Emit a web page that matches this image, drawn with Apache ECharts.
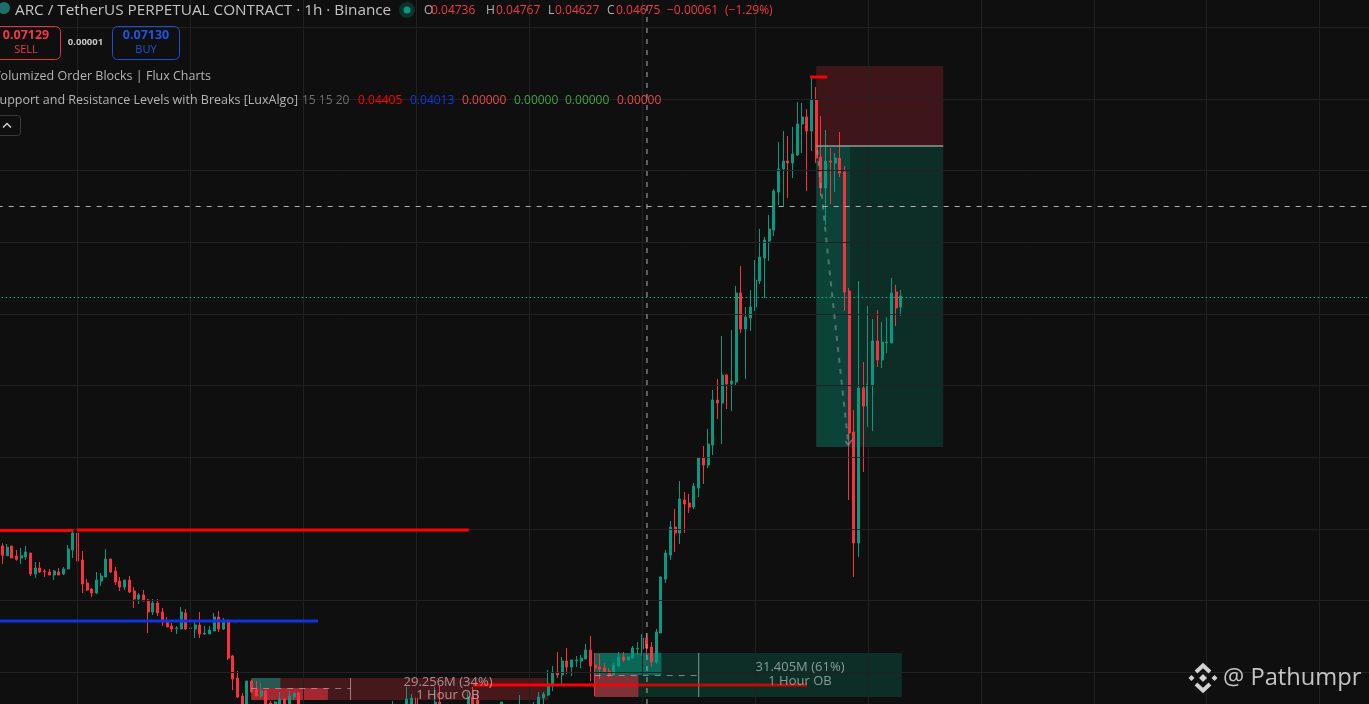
<!DOCTYPE html>
<html>
<head>
<meta charset="utf-8">
<title>ARC / TetherUS</title>
<script src="https://cdn.jsdelivr.net/npm/echarts@6/dist/echarts.min.js"></script>
<style>html,body{margin:0;padding:0;background:#0f0f0f;overflow:hidden}#c{width:1369px;height:704px}</style>
</head>
<body>
<div id="c"></div>
<script>
// Prices are in units of 0.0001. Hourly candles.
const opens = [
464,454.3,464,454,452,453,457,436,442,439,
438,435,438,436,441,460,477,450,427,421,
417,429,433,451,439,429,423,430,419,411,
415,410,398,407,398,389,384,381.3,381,397,
381.7,381,385,376,376,379,393,381,390,354,
332,314,295,329,320,314,319,307,296,296,
311,300,313,317,295,295,295,295,295,295,
295,295,295,295,295,295,295,295,295,295,
295,295,295,295,295,295,295,298,312,295,
295,295,295,308,295,295,295,295,295,295,
313,310,295,295,295,295,295,295,295,295,
295,295,305,295,295,312,315,324,338,335,
349,343,349.3,349,351,360,345,343,342,339,
335,344,353,350,352,361,361,372,363,348,
377,431,455,483,477,510,507,503,522,552,
545,565,610,607,635,626,628,717,681,692,
703,729,752,769,780,818,841,849,847,855,
886,893,879,910,853,822,849,847,852,838,
719,578,467,622,604,625,669,650,667.3,667,
718,703];
const closes = [
454.7,462.7,452,450.7,454.3,458,436,442,438,438.3,
435,439,435,441,461,477,449,426,420,417,
430,434,451,438,428,423,430,418,411,415,
409,398,407,397,388,383,381,382,398,381,
382,385,376,376.7,380,393,381,390,352,331,
313,290,329,318,314,319,300,296,308,311,
300,314,317,295,297,297,297,297,297,297,
297,297,297,297,297,297,297,297,297,297,
297,297,297,305,297,297,311,312,295,297,
297,297,308,295,297,297,297,297,297,313,
298,295,297,297,297,297,308,297,297,297,
304,297,298,303,313,316,326,338,335,349,
343,350,350,352,360,344,342,341,338,335,
345,353,350,353,362,361.7,372,362,348,378,
433,457,483,477,511,506,503,524,552,545,
566,610,607,635,626,629,717,681,693,703,
730,753,770,781,819,841,849,847,856,886,
893,879,910,852,822,849,848,852,837,718,
577,467,622,604,626,669,650,668,668,717,
702,714];
const lows = [
446,454,452,449.3,446,450,434,432,437,433,
435,430,435,435,441,452,447,417,419,413,
416,424,433,437,425,419,420,417,402,406,
409,377,395,394,384,383,378,376,381,380,
371,372,372,375,376,379,378,380,350,320,
312,285,290,317,314,312,298,290,290,290,
295,295,310,290,290,290,290,290,290,290,
290,290,290,290,290,290,290,290,290,290,
290,290,290,290,290,290,290,290,290,290,
290,290,290,290,290,290,290,290,290,290,
290,290,290,290,290,290,290,290,290,290,
290,290,290,290,290,305,314,319,332,325,
336,334,343,342,351,329,314,331,337,333,
335,344,348,350,352,355,354,354,343,346,
377,427,450,458,466,477,497,501,513,526,
542,555,591,566,601,599,625,677,631,679,
699,726,712,749,774,805,804,812,832,854,
857,819,859,847,814,785,806,818,833,699,
510,433,453,538,583,579,643,642,657,667,
684,694];
const highs = [
466.7,466,464,460,462,464,457,448,448,441,
441,440,442,443,465,481,480,459,431,422,
438,437,461,451,443,433,430,434,423,417,
420,411,411,411,402,393,387,384,403,401,
393,388,398,384,384,397,399,392,390,355,
339,317,329,330,329,327,320,309,309,318,
312,319,317,318,300,300,300,300,300,300,
300,300,300,300,300,300,300,300,300,300,
300,300,300,309,300,300,323,316,313,300,
300,300,323,324,300,300,300,300,300,318,
323,320,300,300,300,300,308,300,300,300,
315,300,310,308,318,318,340,344,358,353,
362,350,354,355,366,374,357,356,347,342,
347,358,358,353,364,368,376,377,368,381,
434,460,489,501,529,518,516,527,552,564,
581,620,631,674,636,680,724,744,703,720,
750,781,773,795,821,868,879,874,883,908,
907,901,934,923,894,880,862,857,878,844,
722,600,729,648,704,691,700,688,693,732,
725,720];
const categories = Array.from({length: 291}, (_, i) => 'bar ' + i);

// Price-scale and time-scale reference levels
const gridPrices = [983, 911, 840, 768, 696, 625, 553, 481, 410, 338];
const gridBars = [16, 40, 64, 88, 112, 136, 160, 184, 208, 232, 256, 280];

// Drawn boxes: [fromBar, toBar, upperPrice, lowerPrice]
const stopZone = [[173, 200, 944, 864]];
const targetZone = [[173, 200, 864, 563]];
const targetZoneActive = [[173, 180.2, 864, 563]];
const bearBlock = [[52.9, 116.1, 332, 310]];
const bearBlockBuy = [[52.9, 59.1, 332, 322]];
const bearBlockSell = [[52.9, 69.2, 322, 310]];
const bullBlock = [[125.9, 191.2, 357, 313]];
const bullBlockBuy = [[125.9, 140.1, 357, 335]];
const bullBlockSell = [[125.9, 135.2, 335, 313]];

// Levels and drawn lines: [bar, price] pairs
const resistanceOld = [[-1, 479.5], [15.15, 479.5]];
const resistance = [[15.8, 480], [99.15, 480]];
const support = [[-1, 389], [67.1, 389]];
const lowerLevelBright = [[100, 325], [125.9, 325]];
const lowerLevelInBlock = [[125.9, 325], [171.06, 325]];
const highStub = [[171.7, 933], [175.3, 933]];
const entryLine = [[173, 864], [200, 864]];
const bearMid = [[52.9, 321.5], [74, 321.5]];
const bearTick = [[74.02, 332], [74.02, 310]];
const bullMid = [[125.9, 334.5], [148, 334.5]];
const bullTick = [[148.02, 357], [148.02, 313]];
const projection = [[173.2, 860], [176, 732], [179.8, 567]];
const projectionHead = [[179.2, 569], [179.8, 565], [180.6, 570]];
const crossH = [[-1, 803.5], [291, 803.5]];
const crossV = [[137.02, 306], [137.02, 1010]];
const lastPrice = [[-1, 712.5], [291, 712.5]];

const UP = '#089981', DOWN = '#F9303F';

function boxSeries(data, color, z) {
  return {
    type: 'custom', xAxisIndex: 1, yAxisIndex: 0, z: z, silent: true, data: data,
    clip: true,
    renderItem: function (params, api) {
      const a = api.coord([api.value(0), api.value(2)]);
      const b = api.coord([api.value(1), api.value(3)]);
      return {type: 'rect', shape: {x: a[0], y: a[1], width: b[0] - a[0], height: b[1] - a[1]}, style: {fill: color}};
    },
    encode: {x: [0, 1], y: [2, 3]}
  };
}
function lineSeries(data, color, width, dash, z) {
  return {
    type: 'line', xAxisIndex: 1, yAxisIndex: 0, data: data, showSymbol: false, symbol: 'none',
    silent: true, z: z || 5, clip: true, animation: false,
    lineStyle: {color: color, width: width, type: dash || 'solid', cap: 'butt'}
  };
}

const chart = echarts.init(document.getElementById('c'), null, {renderer: 'canvas'});

function T(text, x, y, fill, size, align, weight, family) {
  return {
    type: 'text', z: 100, silent: true,
    style: {
      text: text, x: x, y: y, fill: fill, textAlign: align || 'left', textVerticalAlign: 'middle',
      font: (weight || 'normal') + ' ' + size + 'px ' + (family || '"Open Sans", "Noto Sans", sans-serif')
    }
  };
}
const RED = '#F23645', GR = '#b4b4b4';
const graphics = [
  {type: 'circle', z: 100, silent: true, shape: {cx: 4, cy: 8, r: 6}, style: {fill: '#1f6f66'}},
  {type: 'circle', z: 100, silent: true, shape: {cx: 407, cy: 10, r: 8}, style: {fill: 'rgba(8,153,129,0.25)'}},
  {type: 'circle', z: 100, silent: true, shape: {cx: 407, cy: 10, r: 3.5}, style: {fill: '#089981'}},
  T('ARC / TetherUS PERPETUAL CONTRACT · 1h · Binance', 15, 10.5, '#c4c4c4', 15.3),
  T('O', 424, 10.5, GR, 12), T('0.04736', 431, 10.5, RED, 12),
  T('H', 486, 10.5, GR, 12), T('0.04767', 496, 10.5, RED, 12),
  T('L', 548, 10.5, GR, 12), T('0.04627', 555, 10.5, RED, 12),
  T('C', 607, 10.5, GR, 12), T('0.04675', 616, 10.5, RED, 12),
  T('−0.00061', 667, 10.5, RED, 12), T('(−1.29%)', 725, 10.5, RED, 12),
  {type: 'rect', z: 100, silent: true, shape: {x: -8, y: 26.5, width: 68.5, height: 33, r: 5}, style: {fill: 'transparent', stroke: '#e5303f', lineWidth: 1}},
  T('0.07129', 26, 35.5, RED, 12.5, 'center', 'bold'),
  T('SELL', 26, 50, RED, 11, 'center'),
  T('0.00001', 85.5, 42.5, '#c8c8c8', 9.5, 'center', 'bold'),
  {type: 'rect', z: 100, silent: true, shape: {x: 112.5, y: 26.5, width: 67, height: 33, r: 5}, style: {fill: 'transparent', stroke: '#1c4fd6', lineWidth: 1}},
  T('0.07130', 146, 35.5, '#1f55e0', 12.5, 'center', 'bold'),
  T('BUY', 146, 50, '#1f55e0', 11, 'center'),
  T('Volumized Order Blocks | Flux Charts', 211, 76.5, GR, 12.5, 'right'),
  T('Support and Resistance Levels with Breaks [LuxAlgo]', 298, 100.5, GR, 12.5, 'right'),
  T('15 15 20', 302, 100.5, '#6f6f6f', 12),
  T('0.04405', 358, 100.5, '#ff0000', 12),
  T('0.04013', 410, 100.5, '#1238dc', 12),
  T('0.00000', 462, 100.5, '#e5484d', 12),
  T('0.00000', 514, 100.5, '#43a047', 12),
  T('0.00000', 565, 100.5, '#43a047', 12),
  T('0.00000', 617, 100.5, '#e5484d', 12),
  {type: 'rect', z: 100, silent: true, shape: {x: -6, y: 115.5, width: 26.5, height: 20, r: 3}, style: {fill: 'transparent', stroke: '#3a3a3a', lineWidth: 1}},
  {type: 'polyline', z: 100, silent: true, shape: {points: [[3, 127.5], [7, 123.5], [11, 127.5]]}, style: {stroke: '#d0d0d0', lineWidth: 1.5, fill: 'none'}},
  T('29.256M (34%)', 448, 682.5, 'rgba(190,165,168,0.85)', 13, 'center'),
  T('1 Hour OB', 448, 695.5, 'rgba(190,165,168,0.85)', 13, 'center'),
  T('31.405M (61%)', 800, 667.5, 'rgba(165,185,182,0.8)', 13, 'center'),
  T('1 Hour OB', 800, 681.5, 'rgba(165,185,182,0.8)', 13, 'center'),
  // watermark
  {type: 'polyline', z: 100, silent: true, shape: {points: [[1196, 672], [1203, 665.5], [1210, 672]]}, style: {stroke: '#d2d2d2', lineWidth: 4, fill: 'none'}},
  {type: 'polyline', z: 100, silent: true, shape: {points: [[1196, 684], [1203, 690.5], [1210, 684]]}, style: {stroke: '#d2d2d2', lineWidth: 4, fill: 'none'}},
  {type: 'polygon', z: 100, silent: true, shape: {points: [[1203, 674], [1207, 678], [1203, 682], [1199, 678]]}, style: {fill: '#d2d2d2'}},
  {type: 'polygon', z: 100, silent: true, shape: {points: [[1191.5, 675], [1194.5, 678], [1191.5, 681], [1188.5, 678]]}, style: {fill: '#d2d2d2'}},
  {type: 'polygon', z: 100, silent: true, shape: {points: [[1214.5, 675], [1217.5, 678], [1214.5, 681], [1211.5, 678]]}, style: {fill: '#d2d2d2'}},
  {type: 'text', z: 100, silent: true, style: {text: '@ Pathumpr', x: 1223, y: 678, fill: '#c4c4c4', textAlign: 'left', textVerticalAlign: 'middle', font: 'normal 23.7px "Open Sans", sans-serif'}}
];

chart.setOption({
  animation: false,
  backgroundColor: '#0f0f0f',
  grid: {left: -1.79, top: 0, width: 1371.86, height: 704, containLabel: false},
  tooltip: {show: false},
  graphic: graphics,
  xAxis: [
    {type: 'category', data: categories, boundaryGap: true, show: false},
    {type: 'value', min: -0.5, max: 290.5, show: false}
  ],
  yAxis: [{type: 'value', min: 306, max: 1010, show: false, scale: true}],
  series: [
    {
      type: 'line', xAxisIndex: 1, yAxisIndex: 0, data: [], z: 0, silent: true,
      markLine: {
        silent: true, symbol: 'none', animation: false, label: {show: false},
        lineStyle: {color: '#212121', width: 1, type: 'solid'},
        data: gridPrices.map(v => ({yAxis: v})).concat(gridBars.map(v => ({xAxis: v})))
      }
    },
    boxSeries(stopZone, 'rgba(242,54,69,0.21)', 1),
    boxSeries(targetZone, 'rgba(8,153,129,0.22)', 1),
    boxSeries(targetZoneActive, 'rgba(8,153,129,0.2)', 1),
    boxSeries(bearBlock, 'rgba(242,54,69,0.24)', 1),
    boxSeries(bearBlockBuy, 'rgba(8,153,129,0.5)', 1),
    boxSeries(bearBlockSell, 'rgba(242,54,69,0.55)', 1),
    boxSeries(bullBlock, 'rgba(8,153,129,0.22)', 1),
    boxSeries(bullBlockBuy, 'rgba(8,153,129,0.55)', 1),
    boxSeries(bullBlockSell, 'rgba(242,54,69,0.5)', 1),
    {
      type: 'candlestick', xAxisIndex: 0, yAxisIndex: 0, z: 3, silent: true,
      barWidth: 2.5,
      data: opens.map((o, i) => [o, closes[i], lows[i], highs[i]]),
      itemStyle: {color: UP, color0: DOWN, borderColor: UP, borderColor0: DOWN, borderWidth: 1}
    },
    lineSeries(entryLine, '#8f9a98', 1.5),
    lineSeries(bearMid, 'rgba(200,180,180,0.6)', 1, [6, 6]),
    lineSeries(bearTick, 'rgba(200,170,170,0.7)', 1),
    lineSeries(bullMid, 'rgba(180,200,195,0.6)', 1, [6, 6]),
    lineSeries(bullTick, 'rgba(180,200,195,0.7)', 1),
    lineSeries(projection, 'rgba(150,165,160,0.5)', 2, [5, 6]),
    lineSeries(projectionHead, 'rgba(150,165,160,0.6)', 1.5),
    lineSeries(resistanceOld, '#ff0000', 3),
    lineSeries(resistance, '#ff0000', 3),
    lineSeries(support, '#0b35e6', 3),
    lineSeries(lowerLevelBright, '#ff0000', 3),
    lineSeries(lowerLevelInBlock, 'rgba(255,0,0,0.75)', 3),
    lineSeries(highStub, '#ff0000', 3),
    lineSeries(lastPrice, '#0fb89b', 1.2, [1.5, 2.5]),
    lineSeries(crossH, '#b0b0b0', 1, [5, 6]),
    lineSeries(crossV, '#b0b0b0', 1, [5, 6])
  ]
});
</script>
</body>
</html>
